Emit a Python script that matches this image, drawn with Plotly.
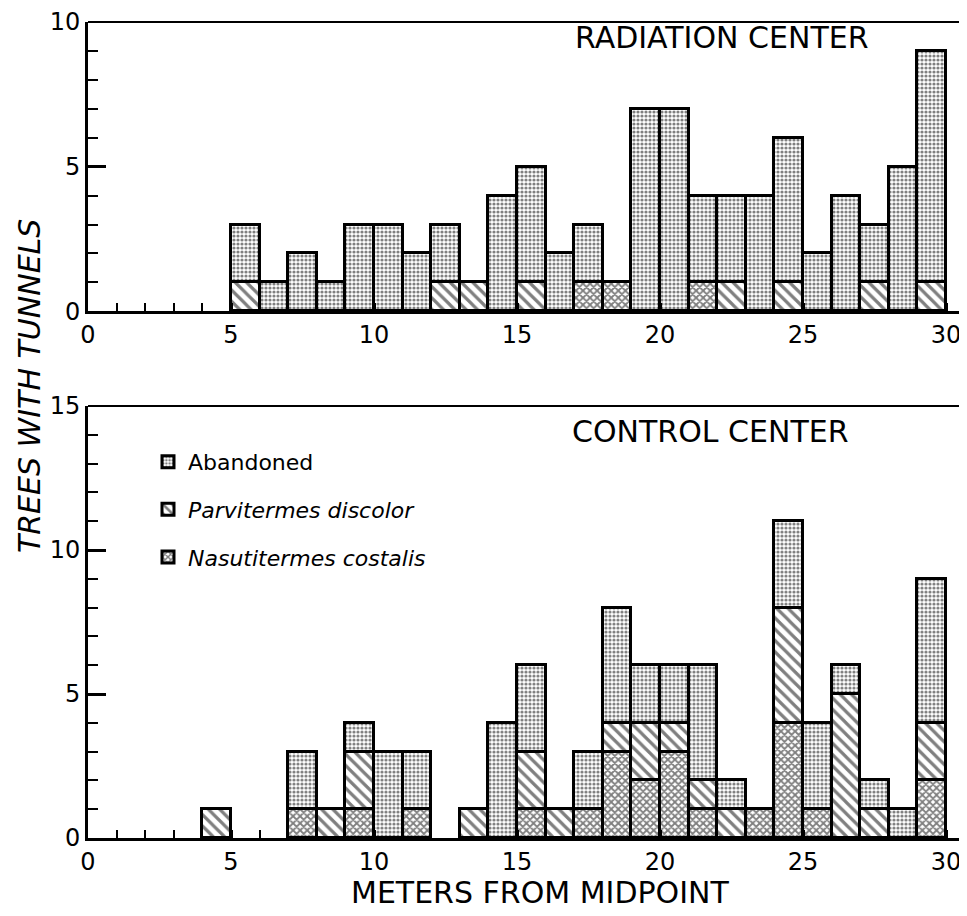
import plotly.graph_objects as go

# ---------------- data (bin left edge in meters, counts per 1-m bin) ----------------
bins = list(range(30))
x_ticks = [0, 5, 10, 15, 20, 25, 30]

top_abandoned = [0, 0, 0, 0, 0, 2, 1, 2, 1, 3, 3, 2, 2, 0, 4, 4, 2, 2, 0, 7, 7, 3, 3, 4, 5, 2, 4, 2, 5, 8]
top_parvitermes = [0, 0, 0, 0, 0, 1, 0, 0, 0, 0, 0, 0, 1, 1, 0, 1, 0, 0, 0, 0, 0, 0, 1, 0, 1, 0, 0, 1, 0, 1]
top_nasutitermes = [0, 0, 0, 0, 0, 0, 0, 0, 0, 0, 0, 0, 0, 0, 0, 0, 0, 1, 1, 0, 0, 1, 0, 0, 0, 0, 0, 0, 0, 0]

bot_abandoned = [0, 0, 0, 0, 0, 0, 0, 2, 0, 1, 3, 2, 0, 0, 4, 3, 0, 2, 4, 2, 2, 4, 1, 0, 3, 3, 1, 1, 1, 5]
bot_parvitermes = [0, 0, 0, 0, 1, 0, 0, 0, 1, 2, 0, 0, 0, 1, 0, 2, 1, 0, 1, 2, 1, 1, 1, 0, 4, 0, 5, 1, 0, 2]
bot_nasutitermes = [0, 0, 0, 0, 0, 0, 0, 1, 0, 1, 0, 1, 0, 0, 0, 1, 0, 1, 3, 2, 3, 1, 0, 1, 4, 1, 0, 0, 0, 2]

series_names = ["<i>Nasutitermes costalis</i>", "<i>Parvitermes discolor</i>", "Abandoned"]
legend_ranks = [3, 2, 1]
panel_titles = ["RADIATION CENTER", "CONTROL CENTER"]

# ---------------- styling ----------------
FONT = "DejaVu Sans"
patterns = {
    "Abandoned": dict(shape=".", size=4, solidity=0.5),
    "<i>Parvitermes discolor</i>": dict(shape="\\", size=8, solidity=0.4),
    "<i>Nasutitermes costalis</i>": dict(shape="x", size=5, solidity=0.6),
}

centers = [b + 0.5 for b in bins]


def nz(vals):
    return [v if v else None for v in vals]


fig = go.Figure()
panels = [
    ("x", "y", [top_nasutitermes, top_parvitermes, top_abandoned], False),
    ("x2", "y2", [bot_nasutitermes, bot_parvitermes, bot_abandoned], True),
]
for xa, ya, data, show in panels:
    for name, rank, vals in zip(series_names, legend_ranks, data):
        p = patterns[name]
        fig.add_trace(go.Bar(
            x=centers, y=nz(vals), width=1.0, name=name,
            xaxis=xa, yaxis=ya, legendgroup=name, showlegend=show, legendrank=rank,
            marker=dict(color="white",
                        line=dict(color="black", width=3),
                        pattern=dict(shape=p["shape"], size=p["size"], solidity=p["solidity"],
                                     fgcolor="black", bgcolor="white", fillmode="overlay")),
        ))

# page has an 8px body margin; positions below are given in screen pixels
OFF = 8
W, H = 967, 916
ML, MR, MT = 88 - OFF, 0, 20 - OFF
BOTTOM = 838 - OFF            # plot-area bottom in figure px
MB = H - BOTTOM
PW = W - ML - MR
PH = BOTTOM - MT


def fx(sx):
    return (sx - OFF - ML) / PW


def fy(sy):
    return (BOTTOM - (sy - OFF)) / PH


y_top_dom = [fy(310), 1.0]
y_bot_dom = [0.0, fy(405)]
x_max = PW / 28.6

axis_common = dict(
    showgrid=False, zeroline=False, showline=True, linecolor="black", linewidth=3,
    ticks="inside", tickcolor="black", tickwidth=2.5,
    tickfont=dict(family=FONT, size=24, color="black"),
)
xaxis_common = dict(axis_common, range=[0, x_max], tickvals=x_ticks, ticklen=8,
                    minor=dict(dtick=1, ticks="inside", ticklen=8, tickwidth=2, tickcolor="black"))
yminor = dict(dtick=1, ticks="inside", ticklen=10, tickwidth=2, tickcolor="black")

fig.update_layout(
    width=W, height=H, margin=dict(l=ML, r=MR, t=MT, b=MB),
    paper_bgcolor="white", plot_bgcolor="white",
    barmode="stack", bargap=0,
    xaxis=dict(xaxis_common, domain=[0, 1], anchor="y"),
    xaxis2=dict(xaxis_common, domain=[0, 1], anchor="y2"),
    yaxis=dict(axis_common, domain=y_top_dom, range=[0, 10], tickvals=[0, 5, 10], ticklen=18,
               minor=yminor, anchor="x"),
    yaxis2=dict(axis_common, domain=y_bot_dom, range=[0, 15], tickvals=[0, 5, 10, 15], ticklen=18,
                minor=yminor, anchor="x2"),
    legend=dict(x=fx(148), y=fy(440), xanchor="left", yanchor="top",
                traceorder="grouped", tracegroupgap=16,
                font=dict(family=FONT, size=22, color="black"), bgcolor="rgba(0,0,0,0)"),
    showlegend=True,
)

# top frame lines
for ya in ["y", "y2"]:
    fig.add_shape(type="line", xref="paper", yref=f"{ya} domain", x0=0, x1=1, y0=1, y1=1,
                  line=dict(color="black", width=2))

fig.add_annotation(text=panel_titles[0], xref="paper", yref="paper", x=fx(722), y=fy(36),
                   xanchor="center", yanchor="middle", showarrow=False,
                   font=dict(family=FONT, size=30, color="black"))
fig.add_annotation(text=panel_titles[1], xref="paper", yref="paper", x=fx(710), y=fy(431),
                   xanchor="center", yanchor="middle", showarrow=False,
                   font=dict(family=FONT, size=30, color="black"))
fig.add_annotation(text="TREES WITH TUNNELS", xref="paper", yref="paper", x=fx(29), y=fy(385),
                   xanchor="center", yanchor="middle", textangle=-90, showarrow=False,
                   font=dict(family=FONT, size=30, color="black", style="italic"))
fig.add_annotation(text="METERS FROM MIDPOINT", xref="paper", yref="paper", x=fx(540), y=fy(893),
                   xanchor="center", yanchor="middle", showarrow=False,
                   font=dict(family=FONT, size=30, color="black"))

fig.write_html("out.html")
